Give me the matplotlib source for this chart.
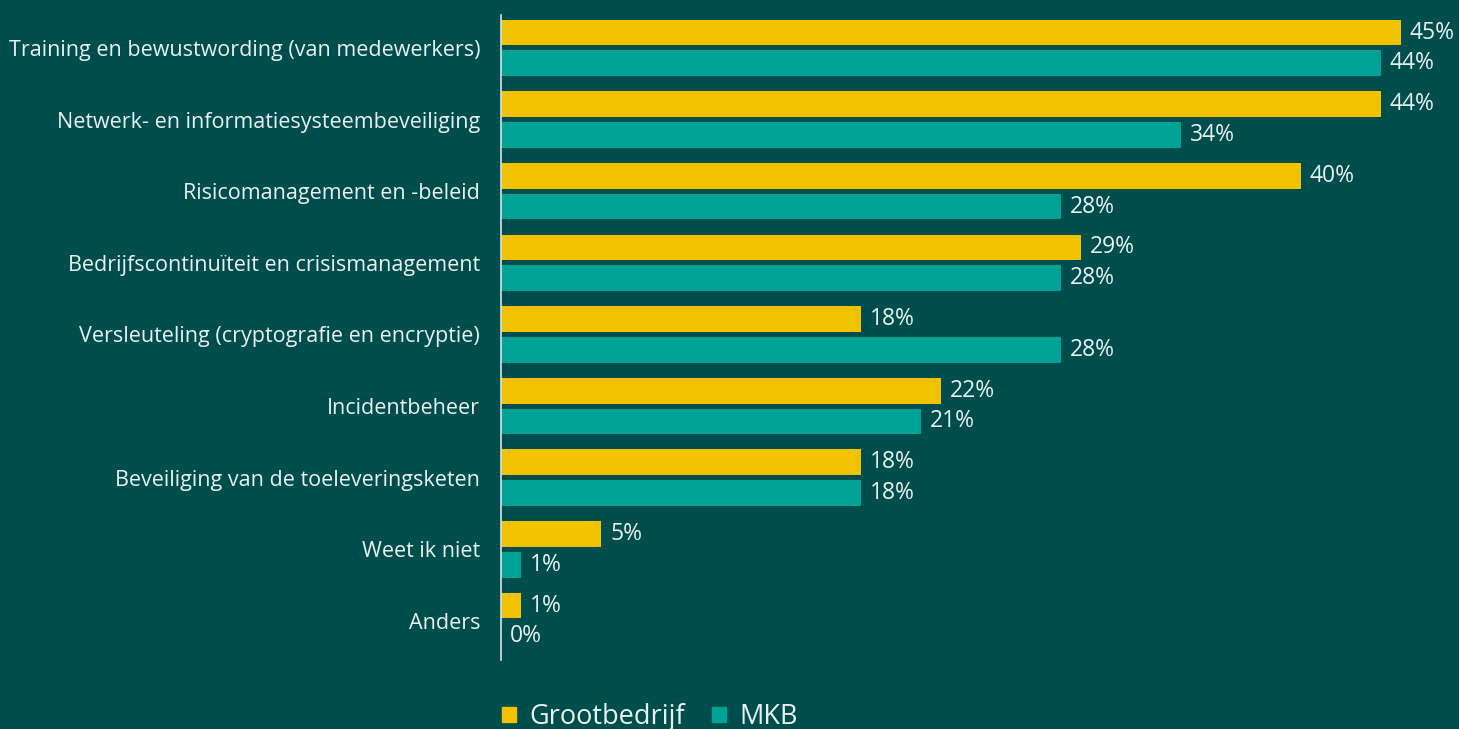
import matplotlib

matplotlib.use("Agg")
import matplotlib.pyplot as plt
from matplotlib.patches import Patch
import numpy as np

categories = [
    "Training en bewustwording (van medewerkers)",
    "Netwerk- en informatiesysteembeveiliging",
    "Risicomanagement en -beleid",
    "Bedrijfscontinuïteit en crisismanagement",
    "Versleuteling (cryptografie en encryptie)",
    "Incidentbeheer",
    "Beveiliging van de toeleveringsketen",
    "Weet ik niet",
    "Anders",
]
grootbedrijf = [45, 44, 40, 29, 18, 22, 18, 5, 1]
mkb = [44, 34, 28, 28, 28, 21, 18, 1, 0]
series_names = ["Grootbedrijf", "MKB"]

BG = "#004D4D"
YELLOW = "#F2C200"
TEAL = "#00A396"
TEXT = "#EAF2F0"

plt.rcParams["font.family"] = ["Open Sans", "DejaVu Sans"]

fig = plt.figure(figsize=(14.59, 7.29), dpi=100, facecolor=BG)
ax = fig.add_axes([501 / 1459, 1 - 660 / 729, 958 / 1459, 645 / 729])
ax.set_facecolor(BG)

y = np.arange(len(categories))
h = 0.36
off = 0.215
ax.barh(y - off, grootbedrijf, height=h, color=YELLOW)
ax.barh(y + off, mkb, height=h, color=TEAL)

for yi, v in zip(y - off, grootbedrijf):
    ax.text(v + 0.45, yi, f"{v}%", va="center", ha="left", color=TEXT, fontsize=16.5)
for yi, v in zip(y + off, mkb):
    ax.text(v + 0.45, yi, f"{v}%", va="center", ha="left", color=TEXT, fontsize=16.5)

ax.set_xlim(0, 47.9)
ax.set_ylim(8.545, -0.46)
ax.set_yticks(y)
ax.set_yticklabels(categories, color=TEXT, fontsize=15.5)
ax.tick_params(axis="y", length=0, pad=15)
ax.set_xticks([])
for s in ["top", "right", "bottom"]:
    ax.spines[s].set_visible(False)
ax.spines["left"].set_color("#D8E4E2")
ax.spines["left"].set_linewidth(1.2)

handles = [Patch(color=YELLOW), Patch(color=TEAL)]
fig.legend(
    handles,
    series_names,
    loc="center left",
    bbox_to_anchor=(478 / 1459, 1 - 717 / 729),
    ncol=2,
    frameon=False,
    handlelength=0.5,
    handleheight=0.5,
    handletextpad=0.5,
    columnspacing=1.0,
    fontsize=19.5,
    labelcolor=TEXT,
)

fig.savefig("out.png", dpi=100, facecolor=BG)
